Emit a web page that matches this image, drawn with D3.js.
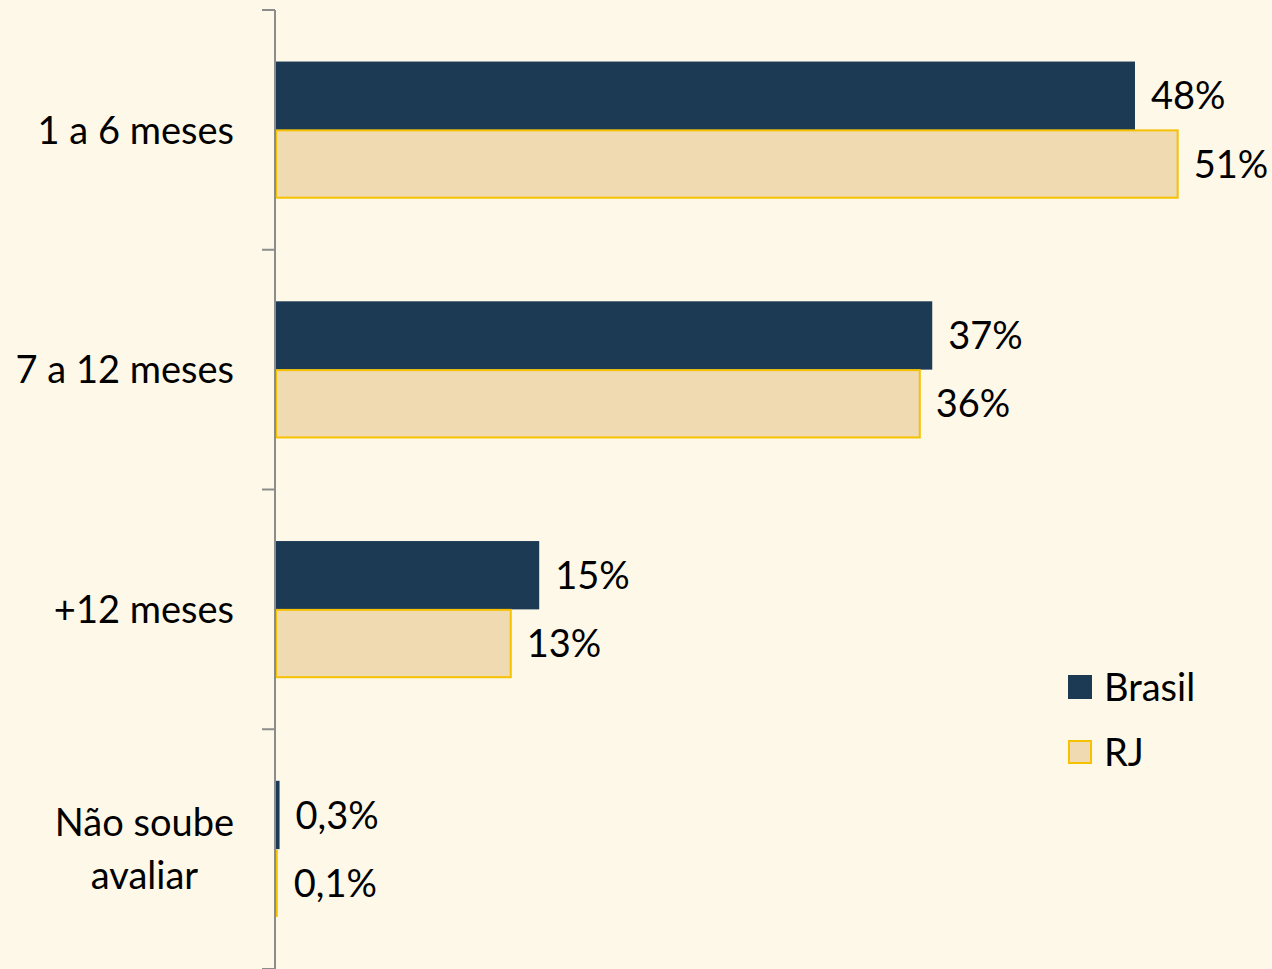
<!DOCTYPE html>
<html><head><meta charset="utf-8">
<script src="https://cdn.jsdelivr.net/npm/d3@7"></script>
<style>
html,body{margin:0;padding:0;background:#FEF8E9;}
svg{display:block;font-family:Lato,"Open Sans",sans-serif;}
</style></head>
<body>
<svg id="chart" width="1272" height="969"></svg>
<script>
const categories = [["1 a 6 meses"], ["7 a 12 meses"], ["+12 meses"], ["Não soube", "avaliar"]];
const categoryKeys = ["1 a 6 meses", "7 a 12 meses", "+12 meses", "Não soube avaliar"];
const seriesNames = ["Brasil", "RJ"];
const brasilValues = [48.3, 36.9, 14.8, 0.2];
const rjValues = [50.7, 36.2, 13.2, 0.1];
const brasilLabels = ["48%", "37%", "15%", "0,3%"];
const rjLabels = ["51%", "36%", "13%", "0,1%"];

const colors = {Brasil: "#1D3A55", RJ: "#EFDAB1"};
const strokes = {Brasil: "none", RJ: "#F6C100"};

const svg = d3.select("#chart");
const fontSize = 38;
const dyC = "0.36em";

const x = d3.scaleLinear().domain([0, 51]).range([276, 1183]);
const y = d3.scaleBand().domain(categoryKeys).range([10, 969]).paddingInner(0.43).paddingOuter(0.215);
const y1 = d3.scaleBand().domain(seriesNames).range([0, y.bandwidth()]);

const data = categoryKeys.map((k, i) => ({
  key: k, lines: categories[i],
  vals: [
    {s: "Brasil", v: brasilValues[i], label: brasilLabels[i]},
    {s: "RJ", v: rjValues[i], label: rjLabels[i]}
  ]
}));

// bars
const g = svg.append("g");
const groups = g.selectAll("g.cat").data(data).join("g")
  .attr("transform", d => `translate(0,${y(d.key)})`);
groups.selectAll("rect").data(d => d.vals).join("rect")
  .attr("x", d => x(0))
  .attr("y", d => y1(d.s) + (d.s === "RJ" ? 0.5 : 0))
  .attr("width", d => Math.max(1, x(d.v) - x(0)))
  .attr("height", d => y1.bandwidth() - (d.s === "RJ" ? 1 : 0))
  .attr("fill", d => d.s === "RJ" && d.v < 1 ? "#F6C100" : colors[d.s])
  .attr("stroke", d => d.v < 1 ? "none" : strokes[d.s])
  .attr("stroke-width", 2);
groups.selectAll("text").data(d => d.vals).join("text")
  .attr("x", d => x(d.v) + 16)
  .attr("y", d => y1(d.s) + y1.bandwidth() / 2)
  .attr("dy", dyC)
  .attr("font-size", fontSize)
  .attr("fill", "#000")
  .text(d => d.label);

// axis
const bandStep = (969 - 10) / categoryKeys.length;
const tickYs = d3.range(categoryKeys.length + 1).map(i => 10 + i * bandStep);
svg.append("line").attr("x1", 275).attr("x2", 275).attr("y1", 10).attr("y2", 969)
  .attr("stroke", "#8C8C8C").attr("stroke-width", 2);
svg.selectAll("line.tick").data(tickYs).join("line").attr("class", "tick")
  .attr("x1", 262).attr("x2", 275).attr("y1", d => d).attr("y2", d => d)
  .attr("stroke", "#8C8C8C").attr("stroke-width", 2);

// category labels
const labelRight = 234;
data.forEach(d => {
  const cy = y(d.key) + y.bandwidth() / 2;
  const lh = 53;
  const t = svg.append("text").attr("font-size", fontSize).attr("fill", "#000");
  if (d.lines.length === 1) {
    t.attr("x", labelRight).attr("y", cy).attr("dy", dyC).attr("text-anchor", "end").text(d.lines[0]);
  } else {
    let maxW = 0;
    d.lines.forEach(l => {
      const tmp = svg.append("text").attr("font-size", fontSize).text(l);
      maxW = Math.max(maxW, tmp.node().getComputedTextLength());
      tmp.remove();
    });
    const cx = labelRight - maxW / 2;
    t.attr("text-anchor", "middle");
    d.lines.forEach((l, i) => {
      t.append("tspan").attr("x", cx)
        .attr("y", cy + (i - (d.lines.length - 1) / 2) * lh)
        .attr("dy", dyC).text(l);
    });
  }
});

// legend
const legend = svg.append("g").attr("transform", "translate(1068,675)");
seriesNames.forEach((s, i) => {
  const lg = legend.append("g").attr("transform", `translate(0,${i * 65})`);
  lg.append("rect").attr("x", s === "RJ" ? 1 : 0).attr("y", s === "RJ" ? 1 : 0)
    .attr("width", s === "RJ" ? 22 : 24).attr("height", s === "RJ" ? 22 : 24)
    .attr("fill", colors[s]).attr("stroke", strokes[s]).attr("stroke-width", 2);
  lg.append("text").attr("x", 36).attr("y", 12).attr("dy", dyC)
    .attr("font-size", fontSize).attr("fill", "#000").text(s);
});
</script>
</body></html>
